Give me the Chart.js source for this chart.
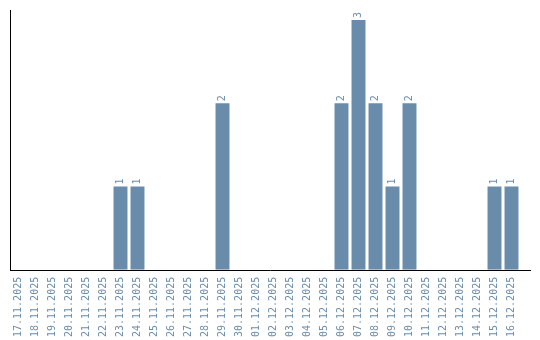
<!DOCTYPE html>
<html lang="de">
<head>
    <meta charset="UTF-8">
    <title>Tägliche Anzahl</title>
    <script src="https://cdn.jsdelivr.net/npm/chart.js"></script>
    <style>
        html, body { margin: 0; padding: 0; background: #fff; }
        .chart-container { width: 540px; height: 340px; }
    </style>
</head>
<body>
<div class="chart-container">
    <canvas id="dayChart" width="540" height="340"></canvas>
</div>
<script>
    const days = [
        "17.11.2025", "18.11.2025", "19.11.2025", "20.11.2025", "21.11.2025",
        "22.11.2025", "23.11.2025", "24.11.2025", "25.11.2025", "26.11.2025",
        "27.11.2025", "28.11.2025", "29.11.2025", "30.11.2025", "01.12.2025",
        "02.12.2025", "03.12.2025", "04.12.2025", "05.12.2025", "06.12.2025",
        "07.12.2025", "08.12.2025", "09.12.2025", "10.12.2025", "11.12.2025",
        "12.12.2025", "13.12.2025", "14.12.2025", "15.12.2025", "16.12.2025"
    ];
    const counts = [
        0, 0, 0, 0, 0, 0, 1, 1, 0, 0,
        0, 0, 2, 0, 0, 0, 0, 0, 0, 2,
        3, 2, 1, 2, 0, 0, 0, 0, 1, 1
    ];

    const barColor = "rgb(106, 140, 171)";
    const monoFont = "'DejaVu Sans Mono', 'Liberation Mono', monospace";

    // value labels above the bars, turned like the tick labels
    const valueLabels = {
        id: "valueLabels",
        afterDatasetsDraw(chart) {
            const ctx = chart.ctx;
            const meta = chart.getDatasetMeta(0);
            ctx.save();
            ctx.fillStyle = barColor;
            ctx.font = "10px " + monoFont;
            ctx.textAlign = "left";
            ctx.textBaseline = "middle";
            meta.data.forEach((bar, i) => {
                if (!counts[i]) return;
                ctx.save();
                ctx.translate(bar.x, bar.y - 2);
                ctx.rotate(-Math.PI / 2);
                ctx.fillText(String(counts[i]), 0, 0);
                ctx.restore();
            });
            ctx.restore();
        }
    };

    // the bottom axis line runs a little past the last category
    const baseLine = {
        id: "baseLine",
        afterDraw(chart) {
            const a = chart.chartArea;
            const ctx = chart.ctx;
            ctx.save();
            ctx.strokeStyle = "#000";
            ctx.lineWidth = 1;
            ctx.beginPath();
            ctx.moveTo(a.left, Math.round(a.bottom) + 0.5);
            ctx.lineTo(a.right + 11, Math.round(a.bottom) + 0.5);
            ctx.stroke();
            ctx.restore();
        }
    };

    new Chart(document.getElementById("dayChart"), {
        type: "bar",
        data: {
            labels: days,
            datasets: [{
                data: counts,
                backgroundColor: barColor,
                borderWidth: 0,
                barPercentage: 0.82,
                categoryPercentage: 1.0
            }]
        },
        options: {
            responsive: false,
            animation: false,
            maintainAspectRatio: false,
            layout: { padding: { left: 10, right: 20, top: 10, bottom: -4 } },
            plugins: {
                legend: { display: false },
                tooltip: { enabled: false }
            },
            scales: {
                x: {
                    grid: { display: false, drawTicks: false },
                    border: { display: false },
                    ticks: {
                        color: barColor,
                        font: { family: monoFont, size: 10 },
                        minRotation: 90,
                        maxRotation: 90,
                        autoSkip: false,
                        padding: 7
                    }
                },
                y: {
                    min: 0,
                    max: 3.12,
                    grid: { display: false, drawTicks: false },
                    border: { display: true, color: "#000", width: 1 },
                    ticks: { display: false }
                }
            }
        },
        plugins: [valueLabels, baseLine]
    });
</script>
</body>
</html>
